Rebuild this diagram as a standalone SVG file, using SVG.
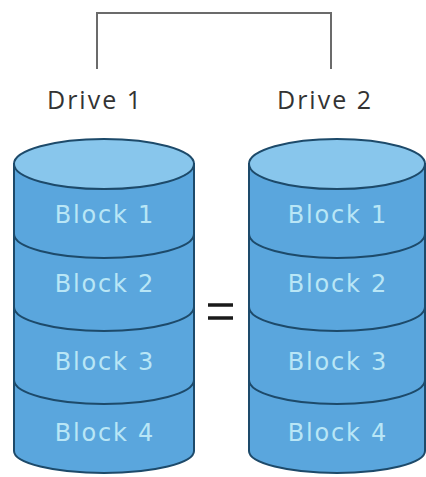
<svg xmlns="http://www.w3.org/2000/svg" width="426" height="477" viewBox="0 0 426 477">
  <style>
    .bg { fill: #ffffff; }
    .link { fill: none; stroke: #6b6b6b; stroke-width: 2; }
    .label { font-family: "Open Sans", "DejaVu Sans", sans-serif; font-size: 25px; fill: #333333; letter-spacing: 2px; }
    .body { fill: #5aa6dd; stroke: #1d4a6a; stroke-width: 2; }
    .top { fill: #88c6ec; stroke: #1d4a6a; stroke-width: 2; }
    .div { fill: none; stroke: #1d4a6a; stroke-width: 2; }
    .blk { font-family: "DejaVu Sans", "Liberation Sans", sans-serif; font-size: 24px; fill: #b9e6f6; letter-spacing: 1.8px; text-anchor: middle; }
    .eq { stroke: #1a1a1a; stroke-width: 3.5; }
  </style>
  <rect class="bg" x="0" y="0" width="426" height="477"/>

  <!-- connector between the two drives -->
  <g id="connectors">
    <path class="link" d="M97,69 V13 H331 V69"/>
  </g>

  <!-- drive 1 -->
  <g id="drive1">
    <text class="label" x="47" y="109">Drive 1</text>
    <path class="body" d="M14,164 V451 A90,22 0 0 0 194,451 V164 Z"/>
    <path class="div" d="M14,234 A90,24 0 0 0 194,234"/>
    <path class="div" d="M14,307 A90,24 0 0 0 194,307"/>
    <path class="div" d="M14,380 A90,24 0 0 0 194,380"/>
    <ellipse class="top" cx="104" cy="164" rx="90" ry="25"/>
    <text class="blk" x="105" y="223">Block 1</text>
    <text class="blk" x="105" y="292">Block 2</text>
    <text class="blk" x="105" y="370">Block 3</text>
    <text class="blk" x="105" y="441">Block 4</text>
  </g>

  <!-- equality sign -->
  <g id="equals">
    <line class="eq" x1="208" y1="305" x2="233" y2="305"/>
    <line class="eq" x1="208" y1="318" x2="233" y2="318"/>
  </g>

  <!-- drive 2 -->
  <g id="drive2">
    <text class="label" x="277" y="109">Drive 2</text>
    <path class="body" d="M249,164 V451 A88,22 0 0 0 425,451 V164 Z"/>
    <path class="div" d="M249,234 A88,24 0 0 0 425,234"/>
    <path class="div" d="M249,307 A88,24 0 0 0 425,307"/>
    <path class="div" d="M249,380 A88,24 0 0 0 425,380"/>
    <ellipse class="top" cx="337" cy="164" rx="88" ry="25"/>
    <text class="blk" x="338" y="223">Block 1</text>
    <text class="blk" x="338" y="292">Block 2</text>
    <text class="blk" x="338" y="370">Block 3</text>
    <text class="blk" x="338" y="441">Block 4</text>
  </g>
</svg>
